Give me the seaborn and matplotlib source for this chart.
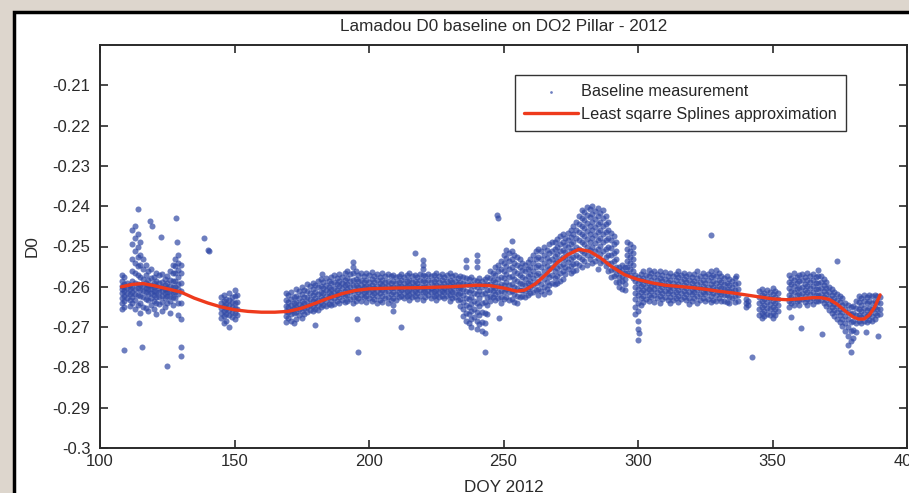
import matplotlib
matplotlib.use("Agg")
import matplotlib.pyplot as plt
import seaborn as sns
import pandas as pd
from matplotlib.patches import Rectangle

# ---------------- data ----------------
title_text = "Lamadou D0 baseline on DO2 Pillar - 2012"
x_label = "DOY 2012"
y_label = "D0"
legend_labels = ["Baseline measurement", "Least sqarre Splines approximation"]

x_ticks = [100, 150, 200, 250, 300, 350, 400]
x_tick_labels = ["100", "150", "200", "250", "300", "350", "400"]
y_ticks = [-0.30, -0.29, -0.28, -0.27, -0.26, -0.25, -0.24, -0.23, -0.22, -0.21]
y_tick_labels = ["-0.3", "-0.29", "-0.28", "-0.27", "-0.26", "-0.25", "-0.24", "-0.23", "-0.22", "-0.21"]

# Baseline measurements, grouped by day of year (DOY: list of D0 values)
seg_a = {
    108: [-.2570, -.2585, -.2598, -.2605, -.2615, -.2628, -.2640, -.2655],
    109: [-.2575, -.2592, -.2600, -.2610, -.2622, -.2636, -.2650],
    110: [-.2590, -.2602, -.2615, -.2628],
    111: [-.2595, -.2606, -.2618, -.2633, -.2648],
    112: [-.2460, -.2495, -.2530, -.2560, -.2585, -.2600, -.2612, -.2625, -.2640],
    113: [-.2450, -.2480, -.2510, -.2540, -.2565, -.2590, -.2605, -.2618, -.2632, -.2655],
    114: [-.2470, -.2500, -.2525, -.2548, -.2570, -.2592, -.2603, -.2620, -.2645],
    115: [-.2490, -.2520, -.2545, -.2575, -.2596, -.2608, -.2622, -.2640, -.2665],
    116: [-.2530, -.2555, -.2580, -.2598, -.2610, -.2625, -.2650],
    117: [-.2545, -.2570, -.2590, -.2602, -.2614, -.2630, -.2652],
    118: [-.2560, -.2582, -.2596, -.2606, -.2618, -.2632, -.2660],
    119: [-.2555, -.2578, -.2595, -.2605, -.2615, -.2628, -.2645],
    120: [-.2575, -.2590, -.2600, -.2610, -.2620, -.2635, -.2655],
    121: [-.2565, -.2585, -.2598, -.2612, -.2625, -.2640, -.2668],
    122: [-.2570, -.2590, -.2602, -.2614, -.2626, -.2642],
    123: [-.2568, -.2588, -.2600, -.2610, -.2622, -.2638, -.2660],
    124: [-.2580, -.2595, -.2605, -.2615, -.2628, -.2650],
    125: [-.2572, -.2590, -.2602, -.2612, -.2624, -.2640],
    126: [-.2560, -.2582, -.2598, -.2610, -.2622, -.2635, -.2665],
    127: [-.2545, -.2565, -.2585, -.2600, -.2612, -.2625, -.2645],
    128: [-.2530, -.2548, -.2565, -.2585, -.2600, -.2612, -.2628],
    129: [-.2520, -.2540, -.2558, -.2575, -.2592, -.2605, -.2618, -.2640, -.2670],
    130: [-.2545, -.2565, -.2590, -.2610, -.2640, -.2680],
}

seg_b = {
    145: [-.2625, -.2640, -.2652, -.2665, -.2678],
    146: [-.2620, -.2635, -.2648, -.2660, -.2672, -.2690],
    147: [-.2630, -.2642, -.2655, -.2668, -.2685],
    148: [-.2615, -.2632, -.2645, -.2658, -.2670, -.2700],
    149: [-.2625, -.2638, -.2650, -.2662, -.2676],
    150: [-.2608, -.2622, -.2640, -.2652, -.2665, -.2680],
    151: [-.2620, -.2638, -.2655, -.2670],
}

seg_c = {
    169: [-.2615, -.2632, -.2648, -.2660, -.2672, -.2688],
    170: [-.2620, -.2638, -.2650, -.2662, -.2678],
    171: [-.2612, -.2630, -.2645, -.2657, -.2668, -.2685],
    172: [-.2625, -.2640, -.2652, -.2665, -.2690],
    173: [-.2605, -.2622, -.2638, -.2650, -.2662, -.2680],
    174: [-.2610, -.2628, -.2642, -.2655, -.2670],
    175: [-.2600, -.2618, -.2635, -.2648, -.2660, -.2678],
    176: [-.2608, -.2625, -.2640, -.2652, -.2668],
    177: [-.2592, -.2610, -.2625, -.2638, -.2650, -.2662],
    178: [-.2598, -.2615, -.2630, -.2645, -.2658],
    179: [-.2590, -.2605, -.2620, -.2635, -.2648, -.2660],
    180: [-.2595, -.2612, -.2628, -.2640, -.2655],
    181: [-.2585, -.2600, -.2618, -.2632, -.2645, -.2658],
    182: [-.2580, -.2598, -.2612, -.2625, -.2638, -.2650],
    183: [-.2588, -.2602, -.2616, -.2630, -.2645],
    184: [-.2578, -.2595, -.2608, -.2622, -.2635, -.2648],
    185: [-.2585, -.2600, -.2612, -.2626, -.2642],
    186: [-.2575, -.2590, -.2605, -.2618, -.2632, -.2645],
    187: [-.2570, -.2588, -.2602, -.2615, -.2628, -.2642],
    188: [-.2578, -.2594, -.2608, -.2620, -.2635],
    189: [-.2568, -.2585, -.2598, -.2612, -.2625, -.2640],
    190: [-.2575, -.2590, -.2604, -.2617, -.2632],
    191: [-.2565, -.2582, -.2596, -.2610, -.2622, -.2638],
    192: [-.2560, -.2578, -.2592, -.2606, -.2620, -.2635],
    193: [-.2568, -.2585, -.2600, -.2614, -.2630],
    194: [-.2538, -.2552, -.2566, -.2582, -.2596, -.2610, -.2625, -.2640],
    195: [-.2562, -.2580, -.2595, -.2608, -.2622, -.2636],
    196: [-.2570, -.2586, -.2600, -.2612, -.2628],
    197: [-.2565, -.2582, -.2596, -.2608, -.2620, -.2635],
    198: [-.2572, -.2588, -.2600, -.2612, -.2626],
    199: [-.2566, -.2583, -.2597, -.2610, -.2624, -.2638],
    200: [-.2570, -.2587, -.2600, -.2613, -.2628],
    201: [-.2563, -.2580, -.2595, -.2608, -.2621, -.2636],
    202: [-.2572, -.2588, -.2602, -.2615, -.2630],
    203: [-.2568, -.2584, -.2598, -.2610, -.2624, -.2640],
    204: [-.2575, -.2590, -.2603, -.2616, -.2632],
    205: [-.2566, -.2582, -.2596, -.2609, -.2622, -.2637],
    206: [-.2572, -.2588, -.2601, -.2614, -.2628],
    207: [-.2568, -.2585, -.2598, -.2611, -.2625, -.2640],
    208: [-.2574, -.2590, -.2603, -.2617, -.2633],
    209: [-.2570, -.2586, -.2600, -.2613, -.2627, -.2645, -.2660],
    210: [-.2576, -.2591, -.2604, -.2618, -.2632],
}

seg_d = {
    211: [-.2572, -.2588, -.2600, -.2612, -.2626],
    212: [-.2568, -.2584, -.2597, -.2609, -.2622],
    213: [-.2575, -.2590, -.2602, -.2615, -.2628],
    214: [-.2570, -.2586, -.2599, -.2611, -.2624],
    215: [-.2566, -.2582, -.2596, -.2608, -.2620, -.2632],
    216: [-.2574, -.2589, -.2601, -.2613, -.2626],
    217: [-.2570, -.2585, -.2598, -.2610, -.2623],
    218: [-.2576, -.2591, -.2603, -.2616, -.2630],
    219: [-.2568, -.2583, -.2597, -.2609, -.2622],
    220: [-.2534, -.2545, -.2556, -.2570, -.2586, -.2600, -.2614, -.2632],
    221: [-.2572, -.2588, -.2600, -.2612, -.2625],
    222: [-.2567, -.2583, -.2597, -.2609, -.2621],
    223: [-.2574, -.2589, -.2602, -.2614, -.2627],
    224: [-.2570, -.2586, -.2599, -.2611, -.2623],
    225: [-.2565, -.2581, -.2595, -.2608, -.2620, -.2633],
    226: [-.2573, -.2588, -.2600, -.2612, -.2626],
    227: [-.2568, -.2584, -.2597, -.2610, -.2622],
    228: [-.2575, -.2590, -.2602, -.2614, -.2628],
    229: [-.2570, -.2585, -.2598, -.2611, -.2624],
    230: [-.2566, -.2582, -.2596, -.2609, -.2621, -.2635],
    231: [-.2574, -.2589, -.2601, -.2613, -.2627],
    232: [-.2570, -.2586, -.2599, -.2612, -.2626],
    233: [-.2577, -.2592, -.2604, -.2617, -.2632],
    234: [-.2572, -.2588, -.2602, -.2616, -.2630, -.2648],
    235: [-.2575, -.2590, -.2605, -.2620, -.2638, -.2655, -.2672],
    236: [-.2534, -.2550, -.2578, -.2594, -.2610, -.2628, -.2646, -.2665, -.2685],
    237: [-.2580, -.2596, -.2612, -.2630, -.2650, -.2668, -.2690],
    238: [-.2576, -.2592, -.2608, -.2625, -.2642, -.2660, -.2680, -.2700],
    239: [-.2582, -.2598, -.2615, -.2634, -.2655, -.2675],
    240: [-.2520, -.2535, -.2550, -.2585, -.2600, -.2618, -.2640, -.2662, -.2685, -.2705],
    241: [-.2578, -.2594, -.2610, -.2628, -.2648, -.2670, -.2692],
    242: [-.2585, -.2600, -.2618, -.2640, -.2662, -.2688, -.2710],
    243: [-.2580, -.2596, -.2615, -.2638, -.2665, -.2690, -.2714],
    244: [-.2575, -.2592, -.2608, -.2625, -.2645, -.2668],
    245: [-.2560, -.2578, -.2594, -.2608, -.2622, -.2636],
    246: [-.2565, -.2582, -.2597, -.2611, -.2626],
    247: [-.2552, -.2570, -.2588, -.2603, -.2617, -.2632],
    248: [-.2545, -.2562, -.2580, -.2598, -.2613, -.2628],
    249: [-.2535, -.2555, -.2575, -.2593, -.2610, -.2625, -.2640],
    250: [-.2520, -.2540, -.2560, -.2578, -.2595, -.2612, -.2630],
    251: [-.2508, -.2528, -.2548, -.2568, -.2588, -.2606, -.2625],
    252: [-.2515, -.2535, -.2555, -.2575, -.2595, -.2612, -.2632],
    253: [-.2486, -.2510, -.2532, -.2552, -.2572, -.2592, -.2610, -.2630],
    254: [-.2520, -.2540, -.2560, -.2580, -.2600, -.2618, -.2638],
    255: [-.2525, -.2545, -.2565, -.2585, -.2603, -.2622, -.2640],
    256: [-.2530, -.2550, -.2570, -.2590, -.2608, -.2625],
    257: [-.2540, -.2558, -.2575, -.2592, -.2608, -.2622],
    258: [-.2545, -.2562, -.2580, -.2596, -.2610, -.2625],
    259: [-.2538, -.2556, -.2574, -.2590, -.2606, -.2620],
    260: [-.2530, -.2550, -.2568, -.2585, -.2600, -.2615],
    261: [-.2520, -.2540, -.2560, -.2578, -.2595, -.2612],
    262: [-.2510, -.2530, -.2550, -.2570, -.2590, -.2608],
}

seg_e = {
    263: [-.2505, -.2525, -.2545, -.2565, -.2585, -.2605, -.2620],
    264: [-.2512, -.2532, -.2552, -.2572, -.2592, -.2610],
    265: [-.2500, -.2520, -.2540, -.2560, -.2580, -.2600, -.2618],
    266: [-.2508, -.2528, -.2548, -.2568, -.2588, -.2605],
    267: [-.2495, -.2515, -.2535, -.2555, -.2575, -.2595, -.2612],
    268: [-.2490, -.2510, -.2530, -.2550, -.2570, -.2590],
    269: [-.2488, -.2506, -.2524, -.2542, -.2560, -.2578, -.2594],
    270: [-.2482, -.2500, -.2518, -.2536, -.2554, -.2572, -.2590],
    271: [-.2475, -.2494, -.2512, -.2530, -.2548, -.2566, -.2585],
    272: [-.2470, -.2490, -.2508, -.2526, -.2544, -.2562, -.2580],
    273: [-.2478, -.2496, -.2514, -.2532, -.2550, -.2568],
    274: [-.2466, -.2484, -.2502, -.2520, -.2538, -.2556],
    275: [-.2458, -.2476, -.2494, -.2512, -.2530, -.2548, -.2565],
    276: [-.2450, -.2470, -.2490, -.2508, -.2526, -.2544, -.2560],
    277: [-.2440, -.2460, -.2480, -.2500, -.2520, -.2540, -.2558],
    278: [-.2425, -.2445, -.2465, -.2485, -.2505, -.2525, -.2545],
    279: [-.2410, -.2430, -.2450, -.2470, -.2490, -.2510, -.2530, -.2550],
    280: [-.2415, -.2435, -.2455, -.2475, -.2495, -.2515, -.2535],
    281: [-.2402, -.2422, -.2442, -.2462, -.2482, -.2502, -.2522, -.2545],
    282: [-.2408, -.2428, -.2448, -.2468, -.2488, -.2508, -.2530],
    283: [-.2400, -.2420, -.2440, -.2460, -.2480, -.2500, -.2520, -.2540],
    284: [-.2412, -.2432, -.2452, -.2472, -.2492, -.2512, -.2535],
    285: [-.2405, -.2425, -.2445, -.2465, -.2485, -.2505, -.2528, -.2555],
    286: [-.2418, -.2438, -.2458, -.2478, -.2498, -.2518, -.2540],
    287: [-.2410, -.2430, -.2450, -.2470, -.2490, -.2512, -.2535],
    288: [-.2425, -.2445, -.2465, -.2485, -.2505, -.2525, -.2548],
    289: [-.2440, -.2460, -.2480, -.2500, -.2520, -.2540, -.2560],
    290: [-.2466, -.2485, -.2504, -.2522, -.2540, -.2558, -.2575],
    291: [-.2475, -.2495, -.2515, -.2535, -.2555, -.2572],
    292: [-.2490, -.2510, -.2530, -.2550, -.2568, -.2588],
    293: [-.2550, -.2562, -.2575, -.2588, -.2600],
    294: [-.2545, -.2558, -.2572, -.2586, -.2605],
    295: [-.2552, -.2566, -.2580, -.2594, -.2607],
    296: [-.2490, -.2505, -.2520, -.2535, -.2550, -.2565],
    297: [-.2495, -.2510, -.2525, -.2540, -.2555, -.2570],
    298: [-.2500, -.2515, -.2530, -.2545, -.2560, -.2578],
    299: [-.2570, -.2585, -.2600, -.2615, -.2630, -.2650, -.2668],
    300: [-.2575, -.2590, -.2605, -.2620, -.2640, -.2660, -.2685, -.2705, -.2731],
    301: [-.2568, -.2584, -.2598, -.2612, -.2628, -.2645],
}

seg_f = {
    302: [-.2562, -.2578, -.2593, -.2607, -.2622, -.2638],
    303: [-.2570, -.2585, -.2600, -.2614, -.2630],
    304: [-.2558, -.2574, -.2590, -.2605, -.2620, -.2635],
    305: [-.2566, -.2582, -.2597, -.2611, -.2626],
    306: [-.2560, -.2576, -.2592, -.2606, -.2621, -.2637],
    307: [-.2568, -.2584, -.2599, -.2613, -.2628],
    308: [-.2562, -.2578, -.2594, -.2608, -.2624, -.2640],
    309: [-.2570, -.2586, -.2600, -.2615, -.2630],
    310: [-.2564, -.2580, -.2595, -.2610, -.2625],
    311: [-.2572, -.2588, -.2602, -.2616, -.2632],
    312: [-.2566, -.2582, -.2597, -.2611, -.2626, -.2640],
    313: [-.2574, -.2590, -.2604, -.2618, -.2633],
    314: [-.2568, -.2584, -.2599, -.2613, -.2628],
    315: [-.2560, -.2576, -.2592, -.2607, -.2622, -.2637],
    316: [-.2570, -.2586, -.2601, -.2615, -.2630],
    317: [-.2565, -.2581, -.2596, -.2610, -.2625],
    318: [-.2572, -.2588, -.2603, -.2617, -.2632],
    319: [-.2567, -.2583, -.2598, -.2612, -.2627, -.2642],
    320: [-.2575, -.2591, -.2605, -.2619, -.2634],
    321: [-.2569, -.2585, -.2600, -.2614, -.2629],
    322: [-.2562, -.2578, -.2594, -.2609, -.2624, -.2639],
    323: [-.2572, -.2588, -.2603, -.2617, -.2632],
    324: [-.2566, -.2582, -.2597, -.2612, -.2627],
    325: [-.2574, -.2590, -.2605, -.2619, -.2635],
    326: [-.2568, -.2584, -.2600, -.2614, -.2630],
    327: [-.2560, -.2576, -.2592, -.2607, -.2622, -.2638],
    328: [-.2570, -.2586, -.2601, -.2616, -.2632],
    329: [-.2558, -.2574, -.2590, -.2605, -.2620, -.2635],
    330: [-.2566, -.2582, -.2598, -.2613, -.2628],
    331: [-.2572, -.2588, -.2603, -.2618, -.2634],
    332: [-.2578, -.2592, -.2606, -.2620, -.2636],
    333: [-.2574, -.2590, -.2605, -.2620, -.2638],
    334: [-.2580, -.2595, -.2610, -.2625, -.2640],
    335: [-.2585, -.2600, -.2614, -.2628],
    336: [-.2578, -.2594, -.2608, -.2622, -.2637],
    337: [-.2590, -.2605, -.2620, -.2635],
    340: [-.2631, -.2640, -.2650],
    341: [-.2636, -.2645],
    345: [-.2610, -.2625, -.2640, -.2655, -.2670],
    346: [-.2605, -.2620, -.2635, -.2650, -.2665, -.2677],
    347: [-.2615, -.2630, -.2645, -.2660, -.2672],
    348: [-.2608, -.2622, -.2638, -.2652, -.2668],
    349: [-.2612, -.2628, -.2642, -.2656, -.2670],
    350: [-.2603, -.2618, -.2634, -.2650, -.2666, -.2677],
    351: [-.2610, -.2626, -.2640, -.2655, -.2670],
    352: [-.2615, -.2630, -.2645, -.2660],
}

seg_g = {
    356: [-.2570, -.2588, -.2604, -.2620, -.2636, -.2650],
    357: [-.2578, -.2594, -.2610, -.2625, -.2640],
    358: [-.2565, -.2582, -.2598, -.2614, -.2630, -.2645],
    359: [-.2575, -.2590, -.2606, -.2620, -.2635],
    360: [-.2570, -.2586, -.2602, -.2617, -.2632, -.2645],
    361: [-.2568, -.2584, -.2600, -.2615, -.2630],
    362: [-.2576, -.2592, -.2607, -.2622, -.2638],
    363: [-.2565, -.2582, -.2598, -.2614, -.2630, -.2644],
    364: [-.2572, -.2588, -.2604, -.2619, -.2634],
    365: [-.2567, -.2583, -.2599, -.2614, -.2629, -.2642],
    366: [-.2575, -.2590, -.2606, -.2621, -.2636],
    367: [-.2558, -.2574, -.2590, -.2605, -.2620, -.2635],
    368: [-.2572, -.2588, -.2603, -.2618, -.2633],
    369: [-.2580, -.2595, -.2610, -.2625, -.2640],
    370: [-.2588, -.2602, -.2617, -.2632, -.2648],
    371: [-.2600, -.2614, -.2628, -.2642, -.2658],
    372: [-.2605, -.2620, -.2635, -.2650, -.2665],
    373: [-.2612, -.2627, -.2642, -.2657, -.2672],
    374: [-.2618, -.2633, -.2648, -.2663, -.2680],
    375: [-.2622, -.2638, -.2654, -.2670, -.2688],
    376: [-.2628, -.2645, -.2662, -.2680, -.2698],
    377: [-.2640, -.2656, -.2672, -.2690, -.2710],
    378: [-.2645, -.2662, -.2680, -.2700, -.2722, -.2745],
    379: [-.2650, -.2668, -.2688, -.2710, -.2735, -.2763],
    380: [-.2648, -.2665, -.2685, -.2706, -.2728],
    381: [-.2635, -.2652, -.2670, -.2690, -.2712],
    382: [-.2622, -.2638, -.2654, -.2670, -.2686],
    383: [-.2628, -.2644, -.2660, -.2676, -.2690],
    384: [-.2620, -.2636, -.2652, -.2668, -.2684],
    385: [-.2625, -.2641, -.2657, -.2673, -.2688],
    386: [-.2620, -.2636, -.2652, -.2668, -.2682],
    387: [-.2624, -.2640, -.2656, -.2672, -.2686],
    388: [-.2620, -.2635, -.2650, -.2665, -.2680],
    389: [-.2622, -.2638, -.2654, -.2670],
    390: [-.2625, -.2640, -.2655, -.2668],
}

outlier_doy = [114, 118.5, 119.4, 122.6, 128.2, 128.5, 138.6, 140, 140.6, 109, 115.6, 125,
               130, 130.2, 114.5, 182.7, 180, 195.5, 196, 212, 217, 243, 247.7, 247.9,
               248.4, 327, 336.4, 342.3, 356.8, 360.5, 368.3, 373.8, 384.6, 389.4, 300.2]
outlier_d0 = [-.2406, -.2436, -.2450, -.2476, -.2429, -.2490, -.2478, -.2508, -.2512, -.2758,
              -.2749, -.2796, -.2749, -.2771, -.2689, -.2568, -.2696, -.2680, -.2763, -.2699,
              -.2516, -.2761, -.2421, -.2429, -.2677, -.2471, -.2572, -.2773, -.2674, -.2701,
              -.2716, -.2535, -.2711, -.2721, -.2715]

# Least-squares spline approximation
spline_doy = [108, 112, 116, 120, 125, 130, 135, 140, 145, 150, 155, 160, 165, 170, 175,
              180, 185, 190, 195, 200, 210, 220, 230, 240, 245, 250, 255, 258, 262, 266,
              270, 274, 278, 282, 286, 290, 295, 300, 305, 310, 315, 320, 325, 330, 335,
              340, 345, 350, 355, 360, 365, 368, 371, 374, 377, 380, 382, 384, 386, 388, 390]
spline_d0 = [-.2600, -.2594, -.2592, -.2597, -.2605, -.2613, -.2628, -.2640, -.2650, -.2657,
             -.2661, -.2663, -.2663, -.2661, -.2653, -.2641, -.2628, -.2617, -.2609, -.2605,
             -.2603, -.2602, -.2600, -.2596, -.2597, -.2603, -.2611, -.2608, -.2592, -.2568,
             -.2540, -.2520, -.2507, -.2512, -.2528, -.2549, -.2570, -.2582, -.2590, -.2596,
             -.2599, -.2602, -.2606, -.2611, -.2615, -.2620, -.2625, -.2630, -.2632, -.2630,
             -.2627, -.2627, -.2631, -.2643, -.2660, -.2675, -.2680, -.2680, -.2670, -.2650,
             -.2620]

# ---------------- build tables ----------------
rows_doy, rows_d0 = [], []
for seg in (seg_a, seg_b, seg_c, seg_d, seg_e, seg_f, seg_g):
    for day, vals in seg.items():
        for v in vals:
            rows_doy.append(day)
            rows_d0.append(v)
rows_doy += outlier_doy
rows_d0 += outlier_d0
meas = pd.DataFrame({"doy": rows_doy, "d0": rows_d0})
spline = pd.DataFrame({"doy": spline_doy, "d0": spline_d0})

# ---------------- style ----------------
sns.set_style("ticks")
plt.rcParams["font.family"] = ["Liberation Sans Narrow", "Liberation Sans", "DejaVu Sans"]
text_col = "#2a2a2a"

W, H = 909, 493
fig = plt.figure(figsize=(W / 100, H / 100), dpi=100, facecolor="#ddd6cd")
fig.patches.append(Rectangle((14 / W, -0.05), 1.1, 1 - 12 / H + 0.05,
                             transform=fig.transFigure, facecolor="white",
                             edgecolor="black", linewidth=2.5, zorder=-10))

ax = fig.add_axes([100 / W, 1 - 448 / H, (907 - 100) / W, (448 - 45) / H])
ax.set_zorder(5)
ax.set_facecolor("white")

sns.scatterplot(data=meas, x="doy", y="d0", ax=ax, color="#2f47a5", s=19,
                linewidth=0, alpha=0.7, label=legend_labels[0], zorder=2)
sns.lineplot(data=spline, x="doy", y="d0", ax=ax, color="#ee3a1c", linewidth=2.4,
             label=legend_labels[1], zorder=3)

ax.set_xlim(100, 400)
ax.set_ylim(-0.30, -0.20)
ax.set_xticks(x_ticks)
ax.set_xticklabels(x_tick_labels)
ax.set_yticks(y_ticks)
ax.set_yticklabels(y_tick_labels)

for sp in ax.spines.values():
    sp.set_visible(True)
    sp.set_color(text_col)
    sp.set_linewidth(1.4)

ax.tick_params(axis="both", direction="in", length=6, width=1.2, color=text_col,
               top=True, right=True, labelsize=12, labelcolor=text_col)
ax.tick_params(axis="y", pad=7)
ax.tick_params(axis="x", pad=4)

ax.set_title(title_text, fontsize=12.3, color=text_col, pad=10)
ax.set_xlabel(x_label, fontsize=12.3, color=text_col, labelpad=8)
ax.set_ylabel(y_label, fontsize=12.3, color=text_col, labelpad=9)

leg = ax.legend(loc="upper left", bbox_to_anchor=((515 - 100) / 807, (448 - 75) / 403),
                borderaxespad=0, frameon=True, fancybox=False, framealpha=1,
                edgecolor="#333333", handlelength=3.3, handletextpad=0.2,
                labelspacing=0.5, borderpad=0.55, markerscale=0.45,
                prop={"family": ["Liberation Sans", "DejaVu Sans"], "size": 11.7})
leg.get_frame().set_linewidth(1.0)

fig.savefig("out.png", dpi=100, facecolor=fig.get_facecolor())
